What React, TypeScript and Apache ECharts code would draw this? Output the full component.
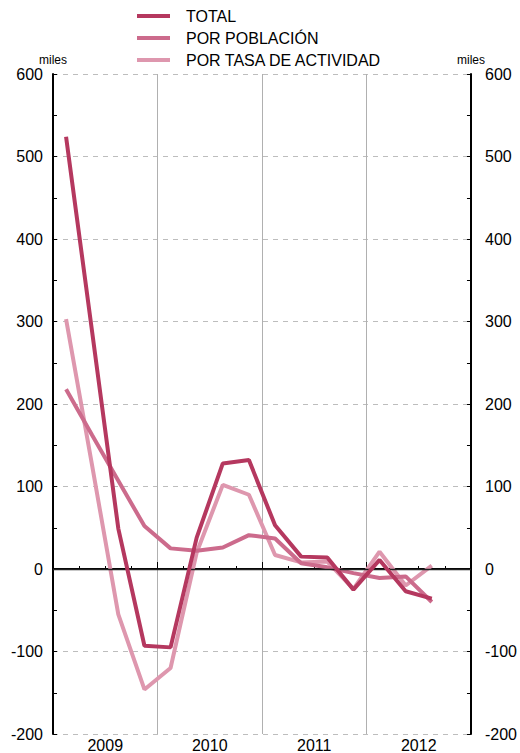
import React, { useEffect, useRef } from "react";
import * as echarts from "echarts";

const quarters = [
  "2009T1", "2009T2", "2009T3", "2009T4",
  "2010T1", "2010T2", "2010T3", "2010T4",
  "2011T1", "2011T2", "2011T3", "2011T4",
  "2012T1", "2012T2", "2012T3", "2012T4",
];
const years = ["2009", "2010", "2011", "2012"];
const total = [524, 287, 49, -93, -95, 38, 128, 132, 53, 15, 14, -25, 11, -27, -36];
const porPoblacion = [218, 162, 107, 52, 25, 22, 26, 41, 37, 7, 2, -5, -11, -9, -40];
const porTasa = [303, 125, -55, -146, -120, 20, 102, 90, 17, 8, 9, -24, 21, -20, 4];

const FONT = "'Liberation Sans', Arial, Helvetica, sans-serif";
const C_TOTAL = "#b5385f";
const C_POB = "#cc6b8c";
const C_TASA = "#de97ae";

export default function App() {
  const ref = useRef<HTMLDivElement>(null);
  useEffect(() => {
    if (!ref.current) return;
    const chart = echarts.init(ref.current, undefined, { renderer: "svg" });
    const yAxisBase = (pos: "left" | "right", margin: number) => ({
      type: "value",
      position: pos,
      min: -200,
      max: 600,
      interval: 100,
      name: "miles",
      nameLocation: "end",
      nameGap: 4,
      nameTextStyle: { fontSize: 12, color: "#000", fontFamily: FONT },
      axisLine: { show: true, lineStyle: { color: "#000", width: 2 } },
      axisTick: { show: true, inside: true, length: 4, lineStyle: { color: "#000", width: 1 } },
      minorTick: { show: true, splitNumber: 2, length: 4, lineStyle: { color: "#000", width: 1 } },
      axisLabel: { color: "#000", fontSize: 16, fontFamily: FONT, margin },
      splitLine: pos === "left"
        ? { show: true, lineStyle: { color: "#bdbdbd", type: [5, 5], width: 1 } }
        : { show: false },
    });
    chart.setOption({
      animation: false,
      textStyle: { fontFamily: FONT },
      grid: { left: 53, right: 47, top: 74, bottom: 17, containLabel: false },
      legend: {
        left: 137,
        top: 8,
        padding: 0,
        orient: "vertical",
        itemWidth: 33,
        itemHeight: 4,
        itemGap: 6,
        icon: "rect",
        data: ["TOTAL", "POR POBLACIÓN", "POR TASA DE ACTIVIDAD"],
        textStyle: { fontSize: 16, color: "#000", fontFamily: FONT, lineHeight: 16, padding: [0, 0, 0, 11] },
      },
      xAxis: [
        {
          type: "category",
          data: quarters,
          boundaryGap: true,
          position: "bottom",
          axisLine: { show: true, lineStyle: { color: "#000", width: 2 } },
          axisTick: { show: true, inside: true, length: 3, interval: 0, lineStyle: { color: "#000", width: 1 } },
          axisLabel: { show: false },
          splitLine: { show: false },
        },
        {
          type: "category",
          data: years,
          boundaryGap: true,
          position: "bottom",
          axisLine: { show: false },
          axisTick: { show: true, inside: true, length: 7, interval: 0, lineStyle: { color: "#000", width: 1 } },
          axisLabel: { show: true, color: "#000", fontSize: 16, fontFamily: FONT, margin: 3, interval: 0 },
          splitLine: { show: true, interval: 0, lineStyle: { color: "#b0b0b0", width: 1, type: "solid" } },
        },
      ],
      yAxis: [yAxisBase("left", 10), yAxisBase("right", 14)],
      series: [
        {
          name: "POR TASA DE ACTIVIDAD",
          type: "line",
          data: porTasa,
          xAxisIndex: 0,
          yAxisIndex: 0,
          symbol: "none",
          lineStyle: { color: C_TASA, width: 4 },
          itemStyle: { color: C_TASA },
          z: 3,
        },
        {
          name: "POR POBLACIÓN",
          type: "line",
          data: porPoblacion,
          xAxisIndex: 0,
          yAxisIndex: 0,
          symbol: "none",
          lineStyle: { color: C_POB, width: 4 },
          itemStyle: { color: C_POB },
          z: 4,
        },
        {
          name: "TOTAL",
          type: "line",
          data: total,
          xAxisIndex: 0,
          yAxisIndex: 0,
          symbol: "none",
          lineStyle: { color: C_TOTAL, width: 4 },
          itemStyle: { color: C_TOTAL },
          z: 5,
          markLine: {
            silent: true,
            symbol: ["none", "none"],
            label: { show: false },
            lineStyle: { color: "#222", width: 1.3, type: "solid" },
            data: [{ yAxis: 0 }],
          },
        },
      ],
    });
    return () => chart.dispose();
  }, []);
  return (
    <div
      ref={ref}
      style={{ position: "absolute", left: 0, top: 0, width: 520, height: 753 }}
    />
  );
}
